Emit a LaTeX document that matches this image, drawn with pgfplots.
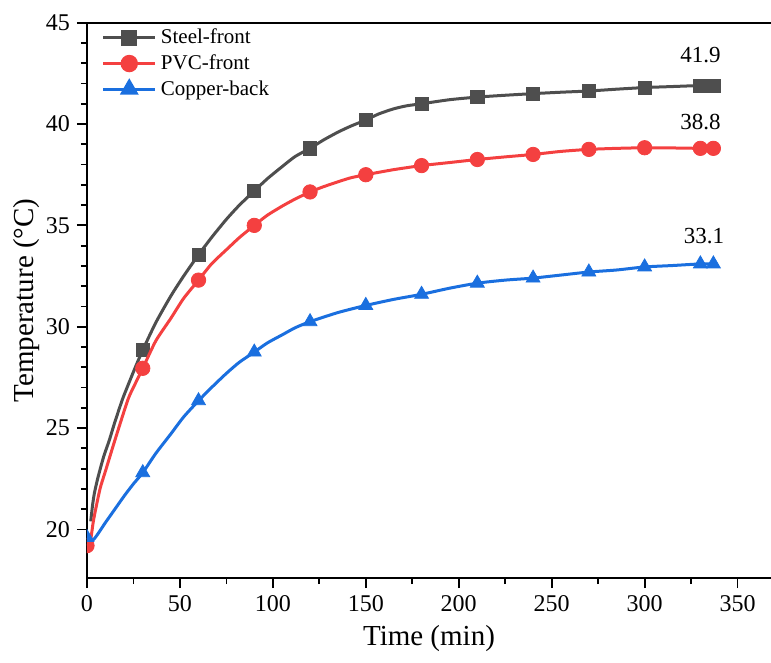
\documentclass[border=0pt]{standalone}
\usepackage{pgfplots}
\pgfplotsset{compat=1.18}
\usepackage{fontspec}
\setmainfont{Liberation Serif}
\usetikzlibrary{calc}
\definecolor{cgray}{RGB}{78,78,78}
\definecolor{cred}{RGB}{244,64,64}
\definecolor{cblue}{RGB}{26,111,223}
\pgfplotsset{
  mylegend/.style={legend image code/.code={%
    \draw[mark repeat=2,mark phase=2,##1,sharp plot,line width=1.5pt] plot coordinates {(0cm,0cm) (0.46cm,0cm) (0.92cm,0cm)};}}
}
\begin{document}
\begin{tikzpicture}
\begin{axis}[
  scale only axis,
  width=342pt, height=277.7pt,
  xmin=0, xmax=368, ymin=17.6, ymax=45,
  clip marker paths=true,
  axis x line=bottom, axis y line=left,
  axis line style={-, line width=1pt, black},
  tick align=outside,
  xtick={0,50,...,350}, ytick={20,25,...,45},
  minor x tick num=1, minor y tick num=4,
  major tick length=5pt, minor tick length=3pt,
  every tick/.style={black, line width=0.9pt},
  /pgf/number format/assume math mode=true,
  tick label style={font=\fontsize{12}{14}\selectfont},
  xlabel={Time (min)}, ylabel={Temperature (°C)},
  label style={font=\fontsize{14.5}{17}\selectfont},
  ylabel style={xshift=0pt, yshift=-3.5pt},
  legend style={at={(0.012,1.004)}, anchor=north west, draw=none, fill=none,
    font=\fontsize{10.5}{12.5}\selectfont, row sep=0pt,
    /tikz/every even column/.append style={column sep=0pt}},
  legend cell align=left,
]
\draw[line width=1pt] (rel axis cs:0,1) -- (rel axis cs:1,1);

% Steel-front
\addplot[cgray, line width=1.5pt, smooth, tension=0.4, forget plot] coordinates {
(2,20.4) (3,21.2) (4,21.8) (6,22.6) (9,23.6) (12,24.4) (15,25.3) (19,26.4) (22,27.1) (26,28.0)
(30,28.85) (37,30.2) (45,31.5) (52,32.5) (60,33.55) (67,34.4) (75,35.3) (82,36.0) (90,36.7)
(97,37.3) (105,37.9) (112,38.4) (120,38.8) (127,39.2) (135,39.6) (142,39.9) (150,40.2)
(157,40.5) (165,40.75) (172,40.9) (180,41.0) (195,41.2) (210,41.33) (225,41.42) (240,41.5)
(255,41.57) (270,41.63) (285,41.72) (300,41.8) (315,41.85) (330,41.9) (337,41.9)};
\addplot[cgray, only marks, mark=square*, mark size=3.3pt, mylegend] coordinates {
(30,28.85) (60,33.55) (90,36.7) (120,38.8) (150,40.2) (180,41.0) (210,41.33) (240,41.5)
(270,41.63) (300,41.8) (330,41.9) (337,41.9)};
\addlegendentry{Steel-front}

% PVC-front
\addplot[cred, line width=1.5pt, smooth, tension=0.4, forget plot] coordinates {
(0,19.2) (1.8,19.4) (3.6,20.5) (7,22.0) (10,22.9) (15,24.4) (22,26.4) (26,27.2) (30,27.95)
(37,29.3) (45,30.4) (52,31.4) (60,32.3) (67,33.1) (75,33.8) (82,34.4) (90,35.0) (97,35.5)
(105,35.95) (112,36.3) (120,36.65) (127,36.9) (135,37.15) (142,37.35) (150,37.5) (165,37.75)
(180,37.95) (195,38.1) (210,38.25) (225,38.38) (240,38.5) (255,38.65) (270,38.75) (285,38.8)
(300,38.83) (315,38.82) (330,38.8) (337,38.8)};
\addplot[cred, only marks, mark=*, mark size=3.6pt, mylegend] coordinates {
(0,19.2) (30,27.95) (60,32.3) (90,35.0) (120,36.65) (150,37.5) (180,37.95) (210,38.25)
(240,38.5) (270,38.75) (300,38.83) (330,38.8) (337,38.8)};
\addlegendentry{PVC-front}

% Copper-back
\addplot[cblue, line width=1.5pt, smooth, tension=0.4, forget plot] coordinates {
(0,19.6) (3.5,19.5) (10,20.35) (15,21.0) (20,21.65) (25,22.25) (30,22.8) (37,23.75) (45,24.7)
(52,25.55) (60,26.35) (67,27.0) (75,27.7) (82,28.25) (90,28.75) (97,29.2) (105,29.6)
(112,29.95) (120,30.25) (135,30.7) (150,31.05) (165,31.35) (180,31.6) (195,31.9) (210,32.15)
(225,32.3) (240,32.4) (255,32.55) (270,32.7) (285,32.8) (300,32.95) (315,33.02) (330,33.1) (337,33.1)};
\addplot[cblue, only marks, mark=triangle*, mark size=4pt, mylegend] coordinates {
(0,19.6) (30,22.8) (60,26.35) (90,28.75) (120,30.25) (150,31.05) (180,31.6) (210,32.15)
(240,32.4) (270,32.7) (300,32.95) (330,33.1) (337,33.1)};
\addlegendentry{Copper-back}

\node[font=\fontsize{11.5}{13}\selectfont] at (axis cs:330,43.41) {41.9};
\node[font=\fontsize{11.5}{13}\selectfont] at (axis cs:330,40.08) {38.8};
\node[font=\fontsize{11.5}{13}\selectfont] at (axis cs:332,34.46) {33.1};
\end{axis}
\pgfresetboundingbox
\path ($(current axis.south west)+(-43.5pt,-42pt)$) rectangle ($(current axis.north east)+(0pt,11.35pt)$);
\end{tikzpicture}
\end{document}
